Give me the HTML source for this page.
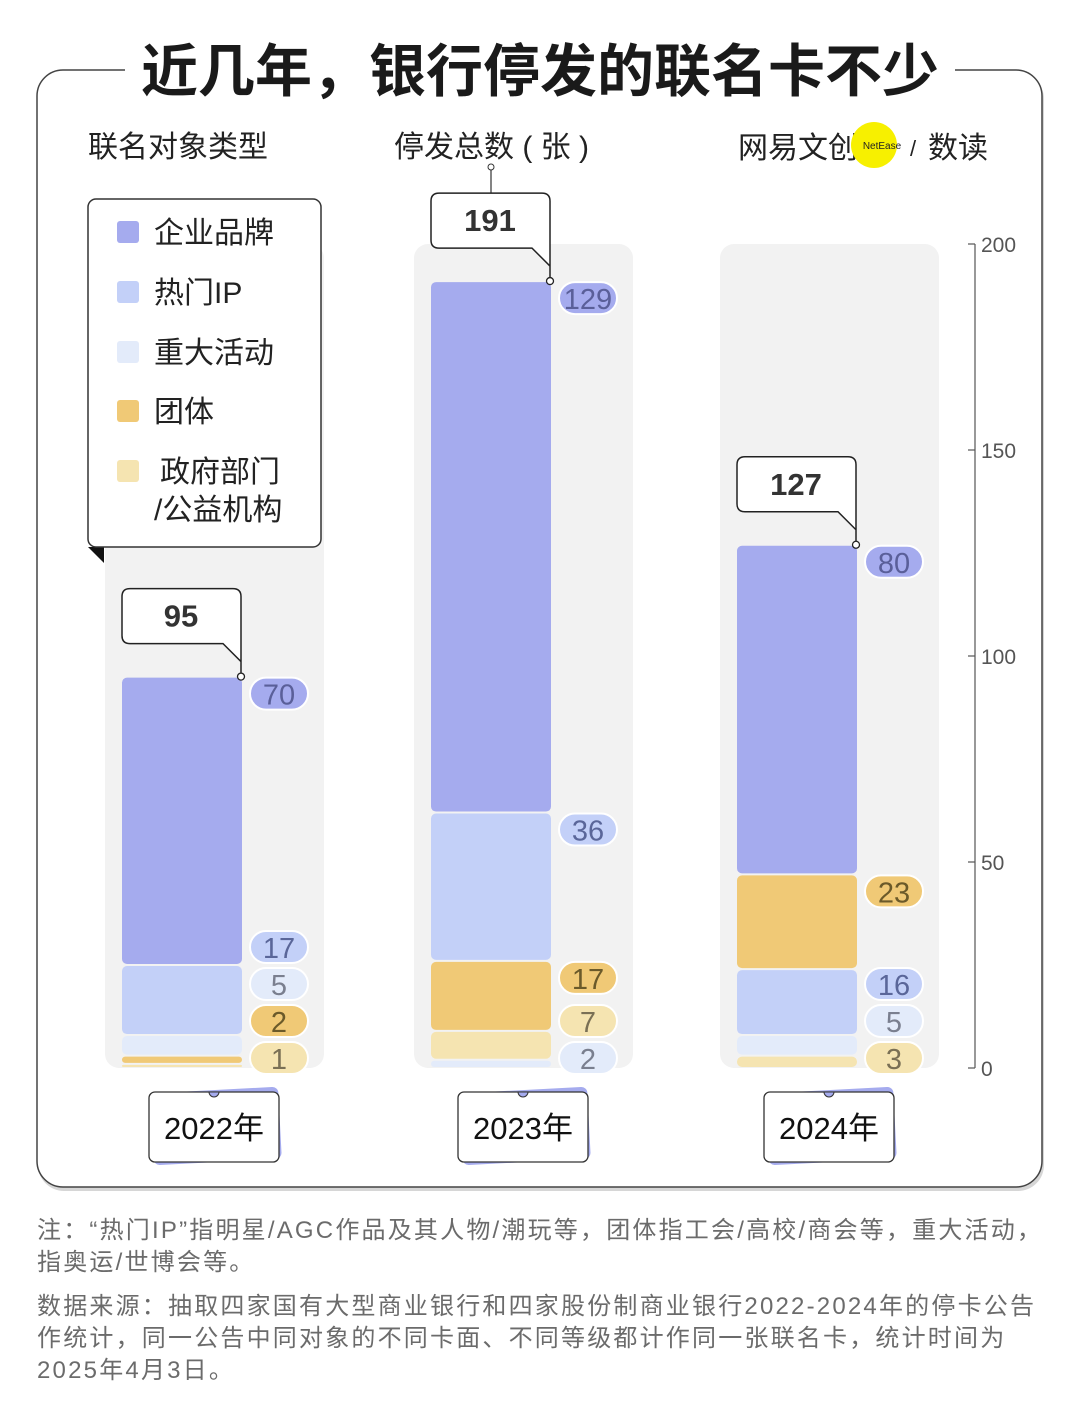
<!DOCTYPE html>
<html><head><meta charset="utf-8">
<style>
body{margin:0;background:#fff;width:1080px;height:1421px;overflow:hidden;font-family:"Liberation Sans","Noto Sans CJK SC",sans-serif;}
svg text{font-family:"Liberation Sans","Noto Sans CJK SC",sans-serif;}
.note{position:absolute;left:37px;width:1040px;color:#6b6b6b;font-size:24px;line-height:32px;letter-spacing:2.2px;white-space:nowrap;}
</style></head>
<body>
<svg id="chart" width="1080" height="1421" style="position:absolute;left:0;top:0">
 <rect x="38" y="73" width="1006" height="1118" rx="26" fill="#d6d6d6"/>
 <rect x="37" y="70" width="1005" height="1117" rx="26" fill="#fff" stroke="#444" stroke-width="1.5"/>
 <rect x="125" y="40" width="830" height="60" fill="#fff"/>
 <text x="540" y="91" text-anchor="middle" font-size="57" font-weight="bold" fill="#1a1a1a">近几年，银行停发的联名卡不少</text>
 <text x="88" y="157" font-size="30" fill="#222">联名对象类型</text>
 <text x="394" y="157" font-size="30" fill="#222">停发总数 ( 张 )</text>
 <line x1="491" y1="167" x2="491" y2="198" stroke="#333" stroke-width="1.2"/>
 <circle cx="491" cy="167" r="3" fill="#fff" stroke="#333"/>
 <g>
  <text x="738" y="158" font-size="30" fill="#222">网易文创</text>
  <circle cx="874" cy="145" r="23" fill="#f7f000"/>
  <text x="882" y="149" text-anchor="middle" font-size="10" fill="#222">NetEase</text>
  <text x="910" y="156" font-size="22" fill="#222">/</text>
  <text x="928" y="158" font-size="30" fill="#222">数读</text>
 </g>
 <g id="panels"></g>
 <g id="axis"></g>
 <g>
  <polygon points="88,547 104,547 104,563" fill="#111"/>
  <rect x="88" y="199" width="233" height="348" rx="8" fill="#fff" stroke="#333" stroke-width="1.5"/>
  <g><rect x="117" y="221" width="22" height="22" rx="3" fill="#a5abee"/><text x="154" y="243" font-size="30" fill="#222">企业品牌</text></g>
  <g><rect x="117" y="281" width="22" height="22" rx="3" fill="#c3d0f8"/><text x="154" y="303" font-size="30" fill="#222">热门IP</text></g>
  <g><rect x="117" y="341" width="22" height="22" rx="3" fill="#e3ebfa"/><text x="154" y="363" font-size="30" fill="#222">重大活动</text></g>
  <g><rect x="117" y="400" width="22" height="22" rx="3" fill="#f0c976"/><text x="154" y="422" font-size="30" fill="#222">团体</text></g>
  <g><rect x="117" y="460" width="22" height="22" rx="3" fill="#f5e4b1"/><text x="160" y="482" font-size="30" fill="#222">政府部门</text><text x="154" y="520" font-size="30" fill="#222">/公益机构</text></g>
 </g>
</svg>
<div class="note" style="top:1215px">注：“热门IP”指明星/AGC作品及其人物/潮玩等，团体指工会/高校/商会等，重大活动，<br>指奥运/世博会等。</div>
<div class="note" style="top:1291px">数据来源：抽取四家国有大型商业银行和四家股份制商业银行2022-2024年的停卡公告<br>作统计，同一公告中同对象的不同卡面、不同等级都计作同一张联名卡，统计时间为<br>2025年4月3日。</div>
<script>
const years = ["2022年","2023年","2024年"];
const seriesNames = ["企业品牌","热门IP","重大活动","团体","政府部门/公益机构"];
// stacks bottom-up per year: [seriesIndex, value]
const stack2022 = [[4,1],[3,2],[2,5],[1,17],[0,70]];
const stack2023 = [[2,2],[4,7],[3,17],[1,36],[0,129]];
const stack2024 = [[4,3],[2,5],[1,16],[3,23],[0,80]];
const yTicks = [0,50,100,150,200];
const stacks = [stack2022,stack2023,stack2024];
const colors = ["#a5abee","#c3d0f8","#e3ebfa","#f0c976","#f5e4b1"];
const textColors = ["#5a5f99","#5a6699","#7a7f8f","#6b5a2a","#7a7055"];
const NS="http://www.w3.org/2000/svg";
const Y0=1068, Y200=244;
const y = v => Y0 - v*(Y0-Y200)/200;
const barX = [122,431,737];
function mk(tag,attrs,parent){const e=document.createElementNS(NS,tag);for(const k in attrs)e.setAttribute(k,attrs[k]);parent.appendChild(e);return e;}
const panels=document.getElementById('panels');
stacks.forEach((st,i)=>{
  const bx=barX[i];
  const g=mk('g',{},panels);
  
  
  mk('rect',{x:bx-17,y:Y200,width:219,height:Y0-Y200,rx:14,fill:'#f2f2f2'},g);
  let cum=0, prevLabel=1058+37, total=0;
  st.forEach(s=>total+=s[1]);
  st.forEach(([si,v])=>{
    const yb=y(cum), yt=y(cum+v);
    cum+=v;
    const h=Math.max(yb-yt-2,2);
    const r=mk('rect',{x:bx,y:yt+1,width:120,height:h,rx:Math.min(5,h/2),fill:colors[si]},g);
    
    
    let ly=Math.min(yt+17,prevLabel-37,1058);
    prevLabel=ly;
    const pill=mk('rect',{x:bx+128,y:ly-16,width:58,height:32,rx:16,fill:colors[si],stroke:'#fff','stroke-width':2},g);
    
    
    const t=mk('text',{x:bx+157,y:ly+11,'text-anchor':'middle','font-size':29,fill:textColors[si]},g);
    t.textContent=v;
    
    
  });
  const top=y(total), bt=top-33, tt=top-88, px=bx+119;
  const c=mk('g',{},g);
  
  
  mk('path',{d:`M${bx+8},${tt} H${px-8} Q${px},${tt} ${px},${tt+8} V${top} L${px},${bt+18} L${px-18},${bt} H${bx+8} Q${bx},${bt} ${bx},${bt-8} V${tt+8} Q${bx},${tt} ${bx+8},${tt} Z`,fill:'#fff',stroke:'#222','stroke-width':1.5},c);
  mk('circle',{cx:px,cy:top,r:3.5,fill:'#fff',stroke:'#222','stroke-width':1.3},c);
  const tt2=mk('text',{x:bx+59,y:tt+38,'text-anchor':'middle','font-size':31,'font-weight':'bold',fill:'#333'},c);
  tt2.textContent=total;
  const yg=mk('g',{},g);
  
  
  mk('rect',{x:bx+30,y:1090,width:128,height:72,rx:6,fill:'#a5abee',transform:`rotate(-3 ${bx+94} 1126)`},yg);
  mk('rect',{x:bx+27,y:1092,width:130,height:70,rx:6,fill:'#fff',stroke:'#333','stroke-width':1.3},yg);
  mk('path',{d:`M${bx+87},1092 a5,5 0 0,0 10,0 Z`,fill:'#a5abee',stroke:'#333','stroke-width':1},yg);
  const yt3=mk('text',{x:bx+92,y:1139,'text-anchor':'middle','font-size':31,fill:'#111'},yg);
  yt3.textContent=years[i];
});
const ax=document.getElementById('axis');
mk('line',{x1:975,y1:Y200,x2:975,y2:Y0,stroke:'#555','stroke-width':1.2},ax);
yTicks.forEach(v=>{
  mk('line',{x1:968,y1:y(v),x2:975,y2:y(v),stroke:'#555','stroke-width':1.2},ax);
  const t=mk('text',{x:981,y:y(v)+8,'font-size':21,fill:'#555'},ax);
  t.textContent=v;
  
  
});
</script>
</body></html>
